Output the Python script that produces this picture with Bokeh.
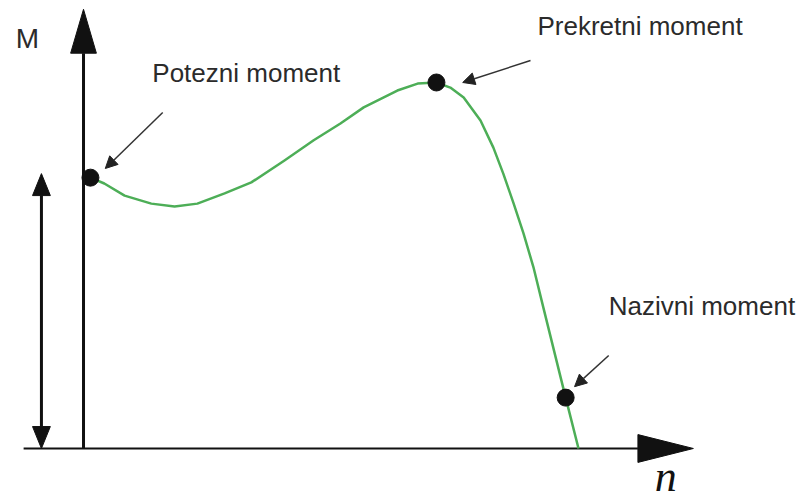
from bokeh.plotting import figure
from bokeh.models import Range1d, Arrow, NormalHead, ColumnDataSource
from bokeh.embed import file_html
from bokeh.resources import INLINE
from bokeh.core.properties import value

# Torque-speed characteristic (n in % of synchronous speed, M in % of breakdown torque)
speed = [1.4, 4.2, 8.3, 13.7, 18.4, 23.0, 28.5, 33.9, 40.6, 46.5, 51.9, 56.6,
         63.4, 67.5, 71.3, 74.1, 76.8, 80.2, 82.8, 84.8, 86.9, 88.9, 90.9,
         92.9, 97.4, 100.0]
torque = [74.0, 72.4, 69.1, 66.9, 66.1, 66.9, 69.7, 72.7, 78.7, 84.2, 88.8, 93.2,
          97.8, 99.7, 100.0, 98.6, 95.9, 89.6, 82.2, 75.1, 66.9, 58.7, 49.5,
          38.5, 13.9, 0.0]

# Marked points
point_names = ["Potezni moment", "Prekretni moment", "Nazivni moment"]
point_speed = [1.4, 71.3, 97.4]
point_torque = [74.0, 100.0, 13.9]

# label positions and annotation arrows
label_x = [13.9, 91.7, 106.1]
label_y = [102.7, 115.3, 39.0]
arrow_from_x = [16.0, 90.3, 106.1]
arrow_from_y = [91.8, 106.0, 25.4]
arrow_to_x = [4.4, 76.6, 99.2]
arrow_to_y = [76.5, 100.0, 16.9]

axis_labels = ["M", "n"]

# axis extents
x_min, x_max = -12.1, 123.2
y_max = 120.0
start_arrow_x = -8.5
start_torque = 75.1

p = figure(width=798, height=497,
           x_range=Range1d(-16.77, 144.44), y_range=Range1d(-13.39, 122.4),
           x_axis_type=None, y_axis_type=None,
           output_backend="svg", toolbar_location=None, min_border=0)
p.grid.visible = False
p.outline_line_color = None
p.background_fill_color = "white"
p.border_fill_color = "white"

ink = "#111111"

# x axis (arrow)
x_head_len, x_head_hw = 11.2, 3.8
p.line([x_min, x_max - x_head_len], [0, 0], line_color=ink, line_width=2)
p.patch([x_max - x_head_len, x_max, x_max - x_head_len],
        [x_head_hw, 0, -x_head_hw], fill_color=ink, line_color=ink)

# y axis (arrow)
y_head_len, y_head_hw = 12.0, 2.6
p.line([0, 0], [0, y_max - y_head_len], line_color=ink, line_width=3)
p.patch([-y_head_hw, 0, y_head_hw],
        [y_max - y_head_len, y_max, y_max - y_head_len], fill_color=ink, line_color=ink)

# double arrow showing starting torque
d_len, d_hw = 6.0, 1.8
p.line([start_arrow_x, start_arrow_x], [d_len, start_torque - d_len], line_color=ink, line_width=3)
p.patch([start_arrow_x - d_hw, start_arrow_x, start_arrow_x + d_hw],
        [start_torque - d_len, start_torque, start_torque - d_len], fill_color=ink, line_color=ink)
p.patch([start_arrow_x - d_hw, start_arrow_x, start_arrow_x + d_hw],
        [d_len, 0, d_len], fill_color=ink, line_color=ink)

# curve
p.line(speed, torque, line_color="#4dae57", line_width=2.5, line_join="round")

# points
p.scatter(point_speed, point_torque, size=17, fill_color=ink, line_color=ink)

# annotation arrows
for xs, ys, xe, ye in zip(arrow_from_x, arrow_from_y, arrow_to_x, arrow_to_y):
    p.add_layout(Arrow(end=NormalHead(size=12, fill_color="#222222", line_color="#222222", line_width=1),
                       x_start=xs, y_start=ys, x_end=xe, y_end=ye,
                       line_color="#333333", line_width=1.5))

# labels
src = ColumnDataSource(dict(x=label_x, y=label_y, t=point_names))
p.text(x="x", y="y", text="t", source=src, text_font=value("Liberation Sans"),
       text_font_size="26px", text_baseline="alphabetic", text_align="left",
       text_color="#2b2b2b")

p.text(x=[-13.7], y=[112.0], text=[axis_labels[0]], text_font=value("Liberation Sans"),
       text_font_size="28px", text_baseline="alphabetic", text_align="left",
       text_color="#2b2b2b")
p.text(x=[115.4], y=[-7.6], text=[axis_labels[1]], text_font=value("Liberation Serif"),
       text_font_style="italic", text_font_size="44px", text_baseline="alphabetic",
       text_align="left", text_color="#111111")

open("out.html", "w").write(file_html(p, INLINE))
